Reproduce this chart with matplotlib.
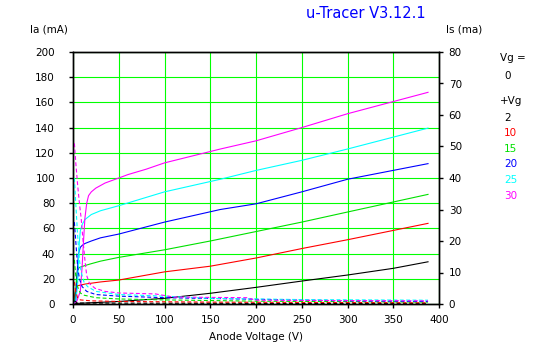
import matplotlib.pyplot as plt

plt.rcParams['font.family'] = ['DejaVu Sans']

# grid voltages and colours of the traces
vg_labels = ['2', '10', '15', '20', '25', '30']
colors = ['#000000', '#ff0000', '#00e000', '#0000ff', '#00ffff', '#ff00ff']

# anode current Ia (mA) vs anode voltage, one list per Vg
va_black = [0, 5, 20, 50, 100, 150, 200, 250, 300, 350, 388]
ia_black = [0, 0.5, 1, 2, 4.5, 8.5, 13.2, 18.2, 23, 28.3, 33.5]
va_red = [0, 1, 2, 3, 5, 13, 30, 50, 100, 150, 200, 250, 300, 388]
ia_red = [0, 3, 8, 12, 14.5, 15.8, 17.5, 19, 25.5, 30, 36.5, 44, 51, 64]
va_green = [0, 2, 3, 4, 5, 7, 13, 20, 30, 50, 100, 150, 200, 250, 300, 388]
ia_green = [0, 3, 12, 22, 27, 29, 30.5, 32, 34, 37, 43, 50, 57.5, 65, 73, 87]
va_blue = [0, 3, 4, 5, 6, 8, 10, 13, 20, 30, 50, 100, 161, 200, 250, 300, 388]
ia_blue = [0, 3, 15, 30, 40, 45, 46.5, 48, 50, 52.5, 55.5, 65, 75, 79.5, 89, 99, 111.4]
va_cyan = [0, 3, 5, 6, 7, 8, 10, 13, 20, 30, 50, 100, 161, 200, 250, 300, 388]
ia_cyan = [0, 2, 15, 35, 50, 58, 63, 67, 71, 74, 78, 89, 99, 106, 114, 123, 139.6]
va_magenta = [0, 4, 8, 10, 11.5, 13, 15, 17, 20, 25, 35, 50, 60, 80, 100, 161, 200, 250, 300, 388]
ia_magenta = [0, 2, 10, 30, 50, 68, 80, 86, 89, 92, 96, 100, 102.7, 107, 112, 123, 129.5, 140, 151, 168]

# screen current Is (mA) vs anode voltage
vs_black = [1.5, 5, 388]
is_black = [1, 0.3, 0.1]
vs_red = [1.5, 3, 5, 8, 20, 50, 150, 388]
is_red = [7, 4, 2, 1.3, 1, 0.8, 0.6, 0.4]
vs_green = [1.5, 3, 5, 8, 12, 25, 50, 100, 200, 388]
is_green = [14, 9, 5.5, 3.5, 2.8, 2, 1.6, 1.3, 0.9, 0.6]
vs_blue = [1.5, 3, 5, 7, 10, 15, 25, 50, 100, 200, 300, 388]
is_blue = [26, 20, 12, 8, 5.5, 4, 3, 2.5, 2, 1.5, 1, 0.8]
vs_cyan = [1.5, 3, 5, 7, 9, 12, 16, 25, 50, 100, 150, 250, 388]
is_cyan = [40, 32, 22, 14, 10, 7, 5.5, 4, 3, 2.5, 1.8, 1.4, 1.2]
vs_magenta = [1.5, 3, 5, 7, 9, 11, 13, 15, 18, 24, 35, 50, 90, 110, 190, 200, 388]
is_magenta = [51, 45, 38, 32, 27, 20, 14, 9, 6.5, 5, 4, 3.5, 3.2, 2.2, 2, 1.2, 1]

ia_curves = [(va_black, ia_black), (va_red, ia_red), (va_green, ia_green),
             (va_blue, ia_blue), (va_cyan, ia_cyan), (va_magenta, ia_magenta)]
is_curves = [(vs_black, is_black), (vs_red, is_red), (vs_green, is_green),
             (vs_blue, is_blue), (vs_cyan, is_cyan), (vs_magenta, is_magenta)]

fig = plt.figure(figsize=(5.47, 3.57), dpi=100)
ax = fig.add_axes([73 / 547, 53 / 357, 366 / 547, 252 / 357])
ax2 = ax.twinx()

for (v, i), c in zip(ia_curves, colors):
    ax.plot(v, i, color=c, lw=0.8)
for (v, i), c in zip(is_curves, colors):
    ax2.plot(v, i, color=c, lw=0.8, dashes=(3.5, 2.2))

ax.set_xlim(0, 400)
ax.set_ylim(0, 200)
ax2.set_ylim(0, 80)
ax.set_xticks(range(0, 401, 50))
ax.set_yticks(range(0, 201, 20))
ax2.set_yticks(range(0, 81, 10))

ax.grid(True, color='#00ff00', lw=0.8)
ax.set_axisbelow(True)
ax.tick_params(axis='y', length=3, width=1, pad=10, labelsize=7.5)
ax.tick_params(axis='x', length=3, width=1, pad=5, labelsize=7.5)
ax2.tick_params(axis='y', length=3, width=1, pad=4, labelsize=7.5)
for a in (ax, ax2):
    for s in a.spines.values():
        s.set_linewidth(1)

ax.set_xlabel('Anode Voltage (V)', fontsize=7.5, labelpad=5)
fig.text(30 / 547, 1 - 30 / 357, 'Ia (mA)', fontsize=7.5, va='center')
fig.text(446 / 547, 1 - 30 / 357, 'Is (ma)', fontsize=7.5, va='center')
fig.text(366 / 547, 1 - 13 / 357, 'u-Tracer V3.12.1', fontsize=10.5,
         color='#0000ff', ha='center', va='center')

# legend text on the right
fig.text(500 / 547, 1 - 58 / 357, 'Vg =', fontsize=7.5, va='center')
fig.text(504 / 547, 1 - 76 / 357, '0', fontsize=7.5, va='center')
fig.text(500 / 547, 1 - 101 / 357, '+Vg', fontsize=7.5, va='center')
for k, (lab, c) in enumerate(zip(vg_labels, colors)):
    fig.text(504 / 547, 1 - (118 + 15.5 * k) / 357, lab, fontsize=7.5,
             color=c, va='center')

fig.savefig('out.png', dpi=100)
